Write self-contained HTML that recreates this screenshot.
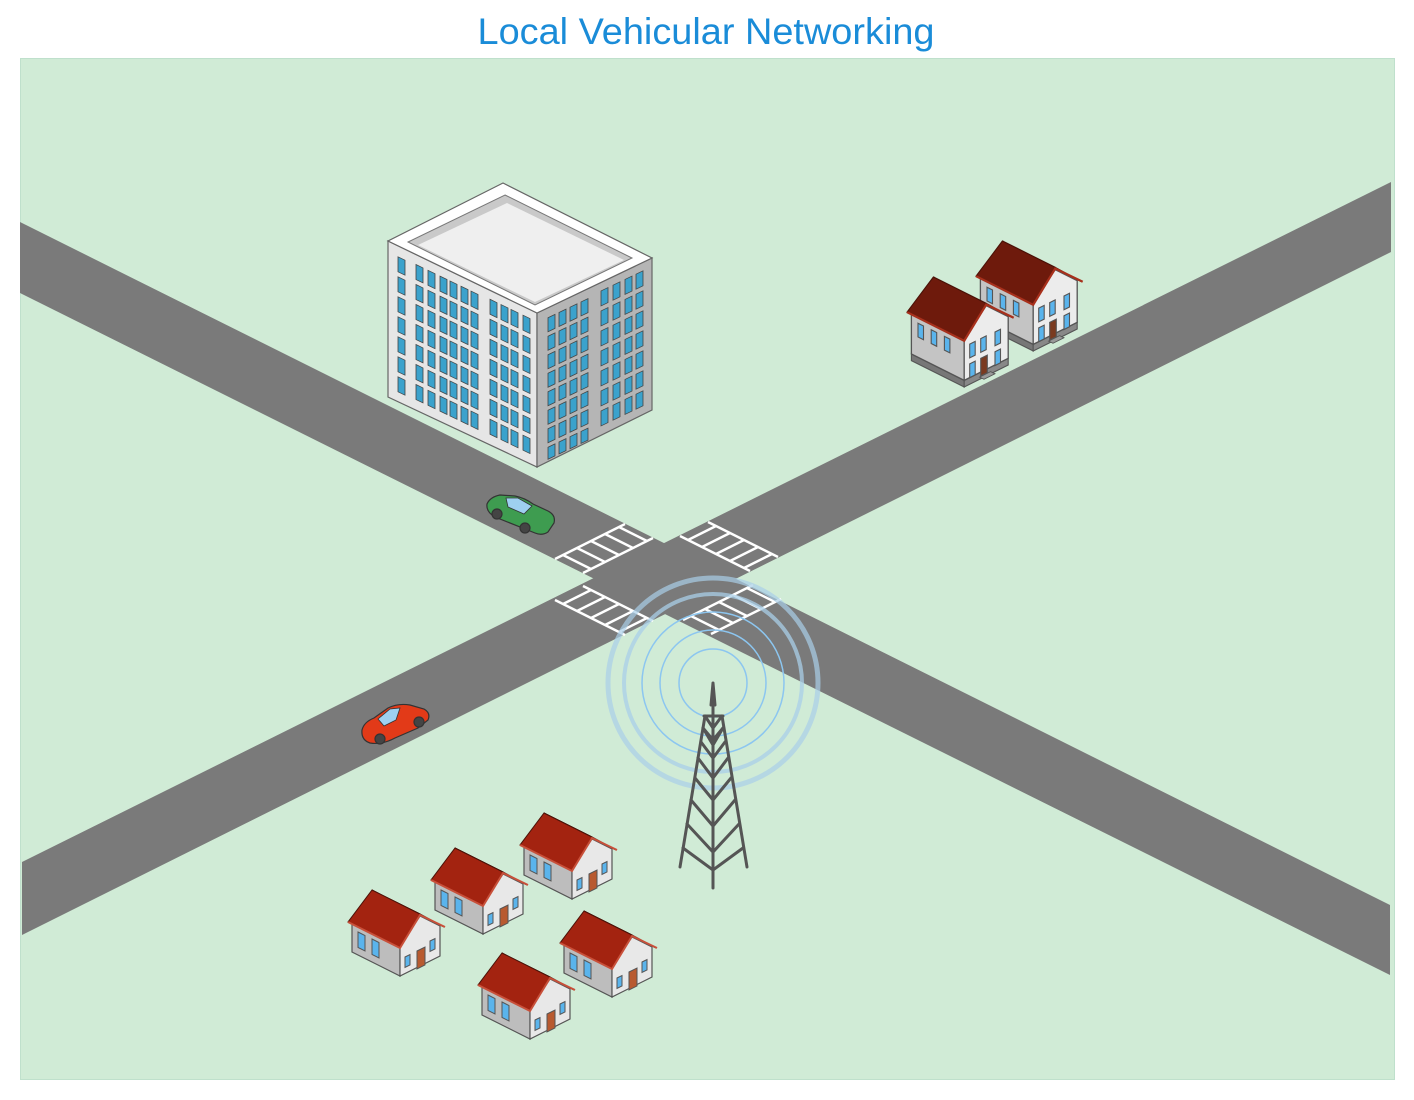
<!DOCTYPE html>
<html><head><meta charset="utf-8"><style>
html,body{margin:0;padding:0;background:#fff;}
svg{display:block;}
</style></head><body>
<svg width="1414" height="1100" viewBox="0 0 1414 1100" xmlns="http://www.w3.org/2000/svg">
<defs>
<g id="house">
  <polygon points="4,32 52,56 52,86 4,62" fill="#bdbdbd" stroke="#555" stroke-width="1.2"/>
  <polygon points="52,56 72,26 92,36 92,66 52,86" fill="#e8e8e8" stroke="#555" stroke-width="1.2"/>
  <polygon points="24,0 72,24 96,37 48,13" fill="#6e1a0c" stroke="#4a1208" stroke-width="1"/>
  <polygon points="24,0 72,24 52,58 0,32" fill="#a32310" stroke="#4a1208" stroke-width="1"/>
  <polyline points="0,32 52,58 72,25 97,37" fill="none" stroke="#c8503a" stroke-width="2"/>
  <polygon points="10,42 17,45.5 17,61 10,57.5" fill="#5ab4ec" stroke="#555" stroke-width="1"/>
  <polygon points="24,49 31,52.5 31,68 24,64.5" fill="#5ab4ec" stroke="#555" stroke-width="1"/>
  <polygon points="69,61 77,57 77,75 69,79" fill="#b85a30" stroke="#555" stroke-width="1"/>
  <polygon points="57,67 62,64.5 62,75 57,77.5" fill="#5ab4ec" stroke="#555" stroke-width="1"/>
  <polygon points="82,51 87,48.5 87,59 82,61.5" fill="#5ab4ec" stroke="#555" stroke-width="1"/>
</g>
<g id="bighouse">
  <polygon points="4,70 52,94 52,100 4,76" fill="#777" stroke="#555" stroke-width="1"/>
  <polygon points="52,94 92,74 92,80 52,100" fill="#888" stroke="#555" stroke-width="1"/>
  <polygon points="4,32 52,56 52,94 4,70" fill="#c4c4c4" stroke="#555" stroke-width="1.2"/>
  <polygon points="52,56 72,26 92,36 92,74 52,94" fill="#ececec" stroke="#555" stroke-width="1.2"/>
  <polygon points="24,0 72,24 96,37 48,13" fill="#5e150a" stroke="#4a1208" stroke-width="1"/>
  <polygon points="24,0 72,24 52,58 0,32" fill="#6e1a0c" stroke="#4a1208" stroke-width="1"/>
  <polyline points="0,32 52,58 72,25 97,37" fill="none" stroke="#a8301c" stroke-width="2"/>
  <polygon points="10,42 15,44.5 15,57 10,54.5" fill="#5ab4ec" stroke="#555" stroke-width="1"/>
  <polygon points="22,48 27,50.5 27,63 22,60.5" fill="#5ab4ec" stroke="#555" stroke-width="1"/>
  <polygon points="34,54 39,56.5 39,69 34,66.5" fill="#5ab4ec" stroke="#555" stroke-width="1"/>
  <polygon points="57,61 62,58.5 62,71 57,73.5" fill="#5ab4ec" stroke="#555" stroke-width="1"/>
  <polygon points="67,56 72,53.5 72,66 67,68.5" fill="#5ab4ec" stroke="#555" stroke-width="1"/>
  <polygon points="80,50 85,47.5 85,60 80,62.5" fill="#5ab4ec" stroke="#555" stroke-width="1"/>
  <polygon points="57,79 62,76.5 62,89 57,91.5" fill="#5ab4ec" stroke="#555" stroke-width="1"/>
  <polygon points="67,74 73,71 73,87 67,90" fill="#7a3a20" stroke="#555" stroke-width="1"/>
  <polygon points="80,68 85,65.5 85,78 80,80.5" fill="#5ab4ec" stroke="#555" stroke-width="1"/>
  <polygon points="66,91 76,86 80,88 70,93" fill="#999" stroke="#555" stroke-width="0.8"/>
</g>
</defs>

<text x="706" y="44" text-anchor="middle" font-family="Liberation Sans, DejaVu Sans, sans-serif" font-size="37" fill="#1a8cd8" textLength="457" lengthAdjust="spacingAndGlyphs">Local Vehicular Networking</text>

<rect x="20.5" y="58.5" width="1374" height="1021" fill="#d0ebd6" stroke="#bfe0cc" stroke-width="1"/>

<polygon points="20,222 1390,905 1390,975 20,293" fill="#7a7a7a"/>
<polygon points="22,862 1391,182 1391,252 22,935" fill="#7a7a7a"/>

<g stroke="#fff" stroke-width="2.5" fill="none">
  <g transform="matrix(1,0.5,1,-0.5,555,559)">
    <path vector-effect="non-scaling-stroke" d="M0,0 L0,70 M28,0 L28,70 M0,8 L28,8 M0,22 L28,22 M0,36 L28,36 M0,50 L28,50 M0,64 L28,64"/>
  </g>
  <g transform="matrix(1,0.5,1,-0.5,680,536)">
    <path vector-effect="non-scaling-stroke" d="M0,0 L70,0 M0,28 L70,28 M8,0 L8,28 M22,0 L22,28 M36,0 L36,28 M50,0 L50,28 M64,0 L64,28"/>
  </g>
  <g transform="matrix(1,0.5,1,-0.5,555,600)">
    <path vector-effect="non-scaling-stroke" d="M0,0 L70,0 M0,28 L70,28 M8,0 L8,28 M22,0 L22,28 M36,0 L36,28 M50,0 L50,28 M64,0 L64,28"/>
  </g>
  <g transform="matrix(1,0.5,1,-0.5,683,620)">
    <path vector-effect="non-scaling-stroke" d="M0,0 L0,70 M28,0 L28,70 M0,8 L28,8 M0,22 L28,22 M0,36 L28,36 M0,50 L28,50 M0,64 L28,64"/>
  </g>
</g>

<polygon points="388,241 537,313 537,467 388,397" fill="#e6e6e6" stroke="#666" stroke-width="1.2"/>
<polygon points="537,313 652,258 652,410 537,467" fill="#b5b5b5" stroke="#666" stroke-width="1.2"/>
<polygon points="503,183 652,258 537,313 388,241" fill="#fff" stroke="#666" stroke-width="1.2"/>
<polygon points="505,195 632,258 535,305 408,242" fill="#c9c9c9" stroke="#777" stroke-width="1"/>
<polygon points="507,203 624,260 535,302 418,245" fill="#efefef"/>
<g fill="#3ba2cc" stroke="#444" stroke-width="0.8">
  <g transform="matrix(1,0.483,0,1,388,241)">
    <g id="lcol1"><rect x="10" y="11" width="7" height="15"/><rect x="10" y="31" width="7" height="15"/><rect x="10" y="51" width="7" height="15"/><rect x="10" y="71" width="7" height="15"/><rect x="10" y="91" width="7" height="15"/><rect x="10" y="111" width="7" height="15"/><rect x="10" y="131" width="7" height="15"/></g>
    <use href="#lcol1" x="18" y="-1"/><use href="#lcol1" x="30" y="-1"/><use href="#lcol1" x="42" y="-1"/><use href="#lcol1" x="52" y="-1"/><use href="#lcol1" x="63" y="-1"/><use href="#lcol1" x="73" y="-1"/>
    <g id="lcol2"><rect x="102" y="9" width="7" height="15"/><rect x="102" y="29" width="7" height="15"/><rect x="102" y="49" width="7" height="15"/><rect x="102" y="69" width="7" height="15"/><rect x="102" y="89" width="7" height="15"/><rect x="102" y="109" width="7" height="15"/><rect x="102" y="129" width="7" height="15"/></g>
    <use href="#lcol2" x="11"/><use href="#lcol2" x="21"/><use href="#lcol2" x="33"/>
  </g>
  <g transform="matrix(1,-0.478,0,1,537,313)">
    <g id="rcol1"><rect x="11" y="10" width="7" height="14"/><rect x="11" y="28.5" width="7" height="14"/><rect x="11" y="47" width="7" height="14"/><rect x="11" y="65.5" width="7" height="14"/><rect x="11" y="84" width="7" height="14"/><rect x="11" y="102.5" width="7" height="14"/><rect x="11" y="121" width="7" height="14"/><rect x="11" y="139.5" width="7" height="12"/></g>
    <use href="#rcol1" x="11"/><use href="#rcol1" x="22"/><use href="#rcol1" x="33"/>
    <g id="rcol2"><rect x="64" y="8.5" width="7" height="15"/><rect x="64" y="28.5" width="7" height="15"/><rect x="64" y="48.5" width="7" height="15"/><rect x="64" y="68.5" width="7" height="15"/><rect x="64" y="88.5" width="7" height="15"/><rect x="64" y="108.5" width="7" height="15"/><rect x="64" y="128.5" width="7" height="15"/></g>
    <use href="#rcol2" x="12"/><use href="#rcol2" x="24"/><use href="#rcol2" x="35"/>
  </g>
</g>

<use href="#bighouse" transform="translate(976,241) scale(1.1)"/>
<use href="#bighouse" transform="translate(907,277) scale(1.1)"/>

<g stroke="#333" stroke-width="1.2">
  <path d="M487,504 Q490,497 500,495 L515,496 Q525,498 533,504 L548,511 Q556,515 554,523 L548,532 Q542,536 535,533 L495,517 Q486,512 487,504 Z" fill="#3e9c50"/>
  <path d="M506,498 L518,498 L532,506 L524,514 L508,507 Z" fill="#9ed0f0" stroke-width="0.8"/>
  <circle cx="497" cy="514" r="5" fill="#444"/>
  <circle cx="525" cy="528" r="5" fill="#444"/>
</g>
<g stroke="#333" stroke-width="1.2">
  <path d="M362,730 Q364,722 374,718 L388,708 Q398,703 410,705 L424,709 Q431,713 428,720 L418,728 L395,738 Q382,745 370,743 Q361,740 362,730 Z" fill="#e23a18"/>
  <path d="M378,719 L390,709 L400,708 L396,720 L384,726 Z" fill="#9ed0f0" stroke-width="0.8"/>
  <circle cx="380" cy="739" r="5" fill="#444"/>
  <circle cx="419" cy="722" r="5" fill="#444"/>
</g>

<g fill="none">
  <circle cx="713" cy="683" r="105" stroke="#a9cfe8" stroke-width="5" opacity="0.7"/>
  <circle cx="713" cy="683" r="89" stroke="#a9cfe8" stroke-width="4" opacity="0.75"/>
  <circle cx="713" cy="683" r="71" stroke="#8cc6f0" stroke-width="1.5"/>
  <circle cx="713" cy="683" r="53" stroke="#8cc6f0" stroke-width="1.5"/>
  <circle cx="713" cy="683" r="34" stroke="#8cc6f0" stroke-width="1.5"/>
</g>

<g stroke="#555" stroke-width="3" fill="none" stroke-linecap="round">
  <path d="M713,683 L713,888"/>
  <path d="M711,705 L713,683 L715,705"/>
  <path d="M705,716 L680,867 M722,716 L747,867 M704,716 L723,716"/>
  <path d="M703,728 L713,740 L723,728 M701,742 L713,758 L725,742 M698,758 L713,778 L728,758 M695,778 L713,800 L731,778 M691,800 L713,826 L735,800 M687,824 L713,852 L739,824 M683,848 L713,870 L743,848"/>
  <path d="M705,716 L713,728 L722,716 M703,728 L713,745 M723,728 L713,745"/>
</g>

<use href="#house" transform="translate(348,890)"/>
<use href="#house" transform="translate(431,848)"/>
<use href="#house" transform="translate(520,813)"/>
<use href="#house" transform="translate(560,911)"/>
<use href="#house" transform="translate(478,953)"/>
</svg>
</body></html>
